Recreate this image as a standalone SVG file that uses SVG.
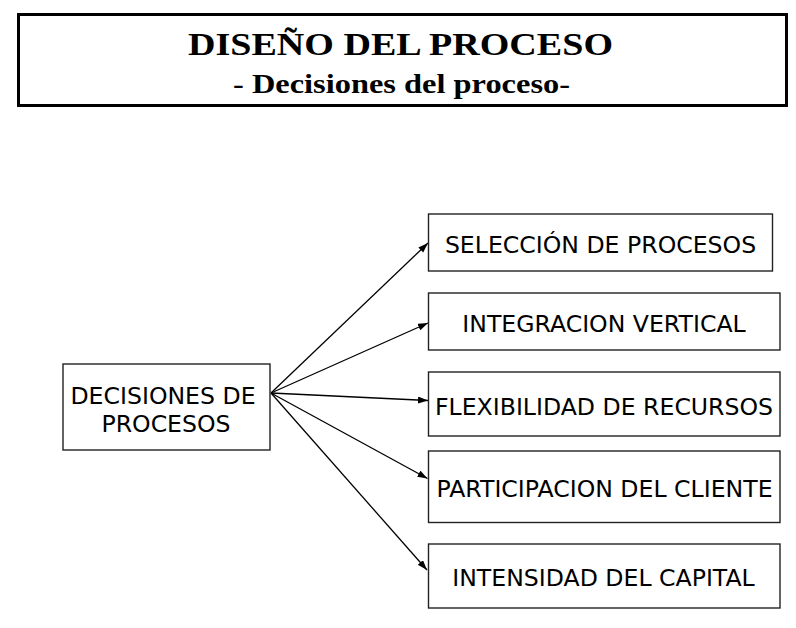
<svg xmlns="http://www.w3.org/2000/svg" width="796" height="628" viewBox="0 0 796 628">
<style>
.box{fill:#fff;stroke:#222;stroke-width:1.4}
.lbl{font-family:"DejaVu Sans",Verdana,sans-serif;font-size:23.6px;fill:#000;text-anchor:middle}
.ttl{font-family:"Liberation Serif","Times New Roman",serif;font-weight:bold;fill:#000;text-anchor:middle}
.con{stroke:#000;stroke-width:1.3;fill:none;marker-end:url(#ah)}
</style>
<defs>
<marker id="ah" markerUnits="userSpaceOnUse" markerWidth="11" markerHeight="8" refX="10" refY="3.5" orient="auto">
<path d="M0,0 L10,3.5 L0,7 z" fill="#000"/>
</marker>
</defs>
<rect width="796" height="628" fill="#fff"/>
<g id="title">
<rect x="18.5" y="14.5" width="768" height="91" fill="#fff" stroke="#000" stroke-width="3"/>
<text class="ttl" x="400.5" y="54.5" font-size="31" textLength="425" lengthAdjust="spacingAndGlyphs">DISEÑO DEL PROCESO</text>
<text class="ttl" x="401.5" y="93" font-size="28" textLength="337" lengthAdjust="spacingAndGlyphs">- Decisiones del proceso-</text>
</g>
<g id="connectors">
<line class="con" x1="271" y1="393" x2="428" y2="243"/>
<line class="con" x1="271" y1="393" x2="428" y2="323"/>
<line class="con" x1="271" y1="393" x2="428" y2="400.5"/>
<line class="con" x1="271" y1="393" x2="427.5" y2="478.5"/>
<line class="con" x1="271" y1="393" x2="427" y2="570"/>
</g>
<g id="decisiones">
<rect class="box" x="63" y="364" width="207" height="86"/>
<text class="lbl" x="163" y="404">DECISIONES DE</text>
<text class="lbl" x="166" y="432">PROCESOS</text>
</g>
<g id="seleccion">
<rect class="box" x="428.5" y="214" width="344" height="57"/>
<text class="lbl" x="600.5" y="253">SELECCIÓN DE PROCESOS</text>
</g>
<g id="integracion">
<rect class="box" x="428.5" y="293" width="351.5" height="57"/>
<text class="lbl" x="604" y="331.5">INTEGRACION VERTICAL</text>
</g>
<g id="flexibilidad">
<rect class="box" x="428.5" y="372" width="351.5" height="64"/>
<text class="lbl" x="604" y="415">FLEXIBILIDAD DE RECURSOS</text>
</g>
<g id="participacion">
<rect class="box" x="428.5" y="451" width="351.5" height="71.5"/>
<text class="lbl" x="604.5" y="496.5">PARTICIPACION DEL CLIENTE</text>
</g>
<g id="intensidad">
<rect class="box" x="428.5" y="544" width="351.5" height="64"/>
<text class="lbl" x="603.5" y="585.5">INTENSIDAD DEL CAPITAL</text>
</g>
</svg>
